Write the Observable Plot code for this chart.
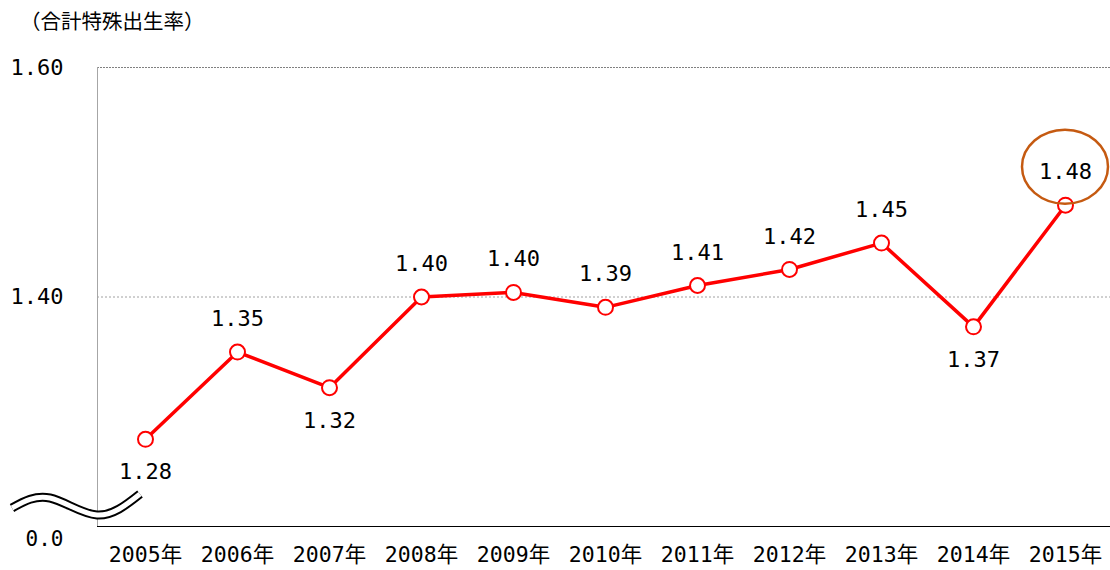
<!DOCTYPE html>
<html>
<head>
<meta charset="utf-8">
<script src="https://cdn.jsdelivr.net/npm/d3@7"></script>
<script src="https://cdn.jsdelivr.net/npm/@observablehq/plot@0.6"></script>
<style>
  html, body { margin: 0; padding: 0; background: white; overflow: hidden; }
  #title { height: 40px; line-height: 40px; padding-left: 20px; font-family: "Noto Sans CJK JP", sans-serif; font-size: 20.5px; color: #000; }
  #chart svg { display: block; }
</style>
</head>
<body>
<div id="title"></div>
<div id="chart"></div>
<script>
const unitLabel = "（合計特殊出生率）";
const years = [2005, 2006, 2007, 2008, 2009, 2010, 2011, 2012, 2013, 2014, 2015];
const rates = [1.276, 1.352, 1.321, 1.400, 1.404, 1.391, 1.410, 1.424, 1.447, 1.374, 1.480];
const rateLabels = ["1.28", "1.35", "1.32", "1.40", "1.40", "1.39", "1.41", "1.42", "1.45", "1.37", "1.48"];
const yTicks = [1.4, 1.6];
const yTickLabels = ["1.40", "1.60"];
const breakLabel = "0.0";
const yearSuffix = "年";
const highlightYear = 2015;

document.getElementById("title").textContent = unitLabel;

const data = years.map((year, i) => ({year, rate: rates[i], label: rateLabels[i]}));
const labelsBelow = new Set([2005, 2007, 2014]);
const font = "'DejaVu Sans Mono', 'Noto Sans CJK JP', monospace";

function breakMark(index, scales, values, dimensions) {
  const x0 = dimensions.marginLeft;
  const y0 = dimensions.height - dimensions.marginBottom;
  const pts = [[-85, -18], [-47, -28], [0, -11], [43, -32]].map(([dx, dy]) => [x0 + dx, y0 + dy]);
  const path = d3.line().curve(d3.curveNatural)(pts);
  const g = d3.create("svg:g");
  g.append("path").attr("d", path).attr("fill", "none").attr("stroke", "#000").attr("stroke-width", 9);
  g.append("path").attr("d", path).attr("fill", "none").attr("stroke", "#fff").attr("stroke-width", 5);
  return g.node();
}

function highlightMark(index, scales) {
  const i = years.indexOf(highlightYear);
  return d3.create("svg:ellipse")
    .attr("cx", scales.x(highlightYear))
    .attr("cy", scales.y(rates[i]) - 38)
    .attr("rx", 43)
    .attr("ry", 37)
    .attr("fill", "none")
    .attr("stroke", "#C55A11")
    .attr("stroke-width", 2.5)
    .node();
}

const chart = Plot.plot({
  width: 1110,
  height: 530,
  marginLeft: 97,
  marginRight: -3,
  marginTop: 27,
  marginBottom: 44,
  x: {type: "point", domain: years, padding: 0.5, axis: null},
  y: {domain: [1.2, 1.6], axis: null},
  style: {background: "white", fontFamily: font, color: "#000", overflow: "visible"},
  marks: [
    Plot.ruleY([1.4], {stroke: "#a0a0a0", strokeDasharray: "2,2"}),
    Plot.ruleY([1.6], {stroke: "#808080", strokeDasharray: "2,1"}),
    Plot.frame({anchor: "left", stroke: "#a6a6a6"}),
    Plot.frame({anchor: "bottom", stroke: "#000"}),
    Plot.text(yTicks, {y: d => d, text: (d, i) => yTickLabels[i], frameAnchor: "left", dx: -34, textAnchor: "end", lineAnchor: "middle", fontSize: 22, fill: "#000"}),
    Plot.text(years, {x: d => d, text: d => d + yearSuffix, frameAnchor: "bottom", lineAnchor: "middle", dy: 29, fontSize: 21.5, fill: "#000"}),
    Plot.text([breakLabel], {text: d => d, frameAnchor: "bottom-left", lineAnchor: "middle", dx: -34, dy: 13, textAnchor: "end", fontSize: 21, fill: "#000"}),
    breakMark,
    Plot.line(data, {x: "year", y: "rate", stroke: "#ff0000", strokeWidth: 3.5}),
    Plot.dot(data, {x: "year", y: "rate", r: 7.5, fill: "white", stroke: "#ff0000", strokeWidth: 2}),
    Plot.text(data.filter(d => !labelsBelow.has(d.year)), {x: "year", y: "rate", text: "label", dy: -33, fontSize: 22, fill: "#000"}),
    Plot.text(data.filter(d => labelsBelow.has(d.year)), {x: "year", y: "rate", text: "label", dy: 33, fontSize: 22, fill: "#000"}),
    highlightMark
  ]
});
document.getElementById("chart").appendChild(chart);
</script>
</body>
</html>
